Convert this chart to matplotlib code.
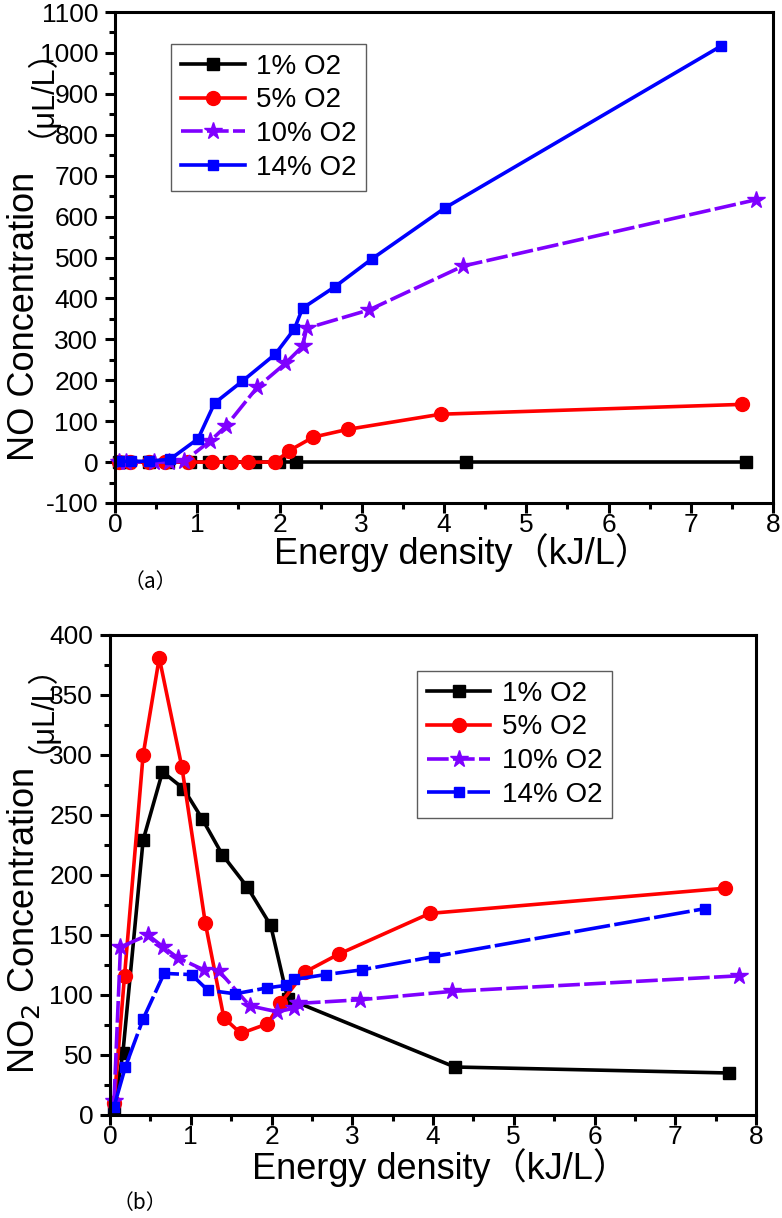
import matplotlib
matplotlib.use("Agg")
import matplotlib.pyplot as plt
from matplotlib.ticker import MultipleLocator

plt.rcParams['font.family'] = ['Liberation Sans', 'Noto Sans CJK SC', 'DejaVu Sans']
plt.rcParams['axes.unicode_minus'] = False

series_labels = ["1% O2", "5% O2", "10% O2", "14% O2"]

# O2 1%
x1 = [0.05, 0.16, 0.41, 0.65, 0.91, 1.14, 1.39, 1.70, 1.99, 2.20, 4.27, 7.67]
no_1 = [0, 0, 0, 0, 0, 0, 0, 0, 0, 0, 0, 0]
no2_1 = [5, 52, 229, 286, 272, 247, 217, 190, 158, 97, 40, 35]

# O2 5%
x5 = [0.05, 0.18, 0.41, 0.61, 0.89, 1.18, 1.41, 1.62, 1.95, 2.11, 2.41, 2.83, 3.96, 7.62]
no_5 = [0, 0, 0, 0, 0, 0, 0, 0, 0, 27, 61, 80, 117, 141]
no2_5 = [10, 116, 300, 381, 290, 160, 81, 68, 76, 93, 119, 134, 168, 189]

# O2 10%
x10 = [0.05, 0.13, 0.47, 0.66, 0.84, 1.16, 1.35, 1.73, 2.07, 2.28, 2.33, 3.09, 4.23, 7.79]
no_10 = [0, 0, 0, 0, 2, 52, 88, 183, 241, 283, 327, 372, 479, 641]
no2_10 = [12, 140, 150, 140, 131, 121, 120, 91, 86, 89, 93, 96, 103, 116]

# O2 14%
x14 = [0.05, 0.19, 0.41, 0.67, 1.01, 1.21, 1.55, 1.95, 2.18, 2.28, 2.67, 3.12, 4.01, 7.37]
no_14 = [2, 2, 2, 7, 57, 144, 198, 264, 325, 376, 428, 496, 621, 1017]
no2_14 = [7, 40, 80, 118, 117, 104, 101, 106, 108, 113, 117, 121, 132, 172]

colors = ["#000000", "#FF0000", "#7F00FF", "#0000FF"]
markers = ["s", "o", "*", "s"]
msizes = [9, 10, 13, 7]

fig = plt.figure(figsize=(7.82, 12.18), dpi=100)

def style_axes(ax, ymaj, ymin, ylim):
    ax.set_xlim(0, 8)
    ax.set_ylim(*ylim)
    ax.xaxis.set_major_locator(MultipleLocator(1))
    ax.xaxis.set_minor_locator(MultipleLocator(0.5))
    ax.yaxis.set_major_locator(MultipleLocator(ymaj))
    ax.yaxis.set_minor_locator(MultipleLocator(ymin))
    for sp in ax.spines.values():
        sp.set_linewidth(2.2)
    ax.tick_params(which='major', direction='out', length=7, width=2.2, labelsize=19)
    ax.tick_params(axis='y', which='major', pad=5)
    ax.tick_params(axis='x', which='major', pad=0.5)
    ax.tick_params(which='minor', direction='out', length=4, width=2.2)
    ax.tick_params(top=False, right=False)

xs = [x1, x5, x10, x14]
ys_top = [no_1, no_5, no_10, no_14]
ys_bot = [no2_1, no2_5, no2_10, no2_14]
ls_top = ['-', '-', (0, (6, 1.2)), '-']
ls_bot = ['-', '-', (0, (6, 1.2)), (0, (10, 1.2))]

leg_kw = dict(loc='upper left', fontsize=20, frameon=True, fancybox=False,
              edgecolor='#333333', handlelength=2.3, labelspacing=0.28,
              borderpad=0.35, handletextpad=0.4, borderaxespad=0)

cjk = ['Noto Sans CJK SC', 'DejaVu Sans']
rot_kw = dict(rotation=90, rotation_mode='anchor', ha='center', va='baseline')

# ---- top (a)
ax1 = fig.add_axes([115/782, 1-503/1218, 658/782, 491/1218])
for i in range(4):
    ax1.plot(xs[i], ys_top[i], color=colors[i], marker=markers[i], ms=msizes[i],
             lw=2.6, linestyle=ls_top[i], label=series_labels[i], clip_on=False)
style_axes(ax1, 100, 50, (-100, 1100))
leg = ax1.legend(bbox_to_anchor=(0.085, 0.935), **leg_kw)
leg.get_frame().set_linewidth(1.0)

fig.text(34/782, 1-316/1218, "NO Concentration", fontsize=26, **rot_kw)
fig.text(34/782, 1-76/1218, "（μL/L）", fontsize=22, **rot_kw)
fig.text(463/782, 1-553/1218, "Energy density（kJ/L）", fontsize=26, ha='center', va='center')
fig.text(150/782, 1-582/1218, "（a）", fontsize=15, ha='center', va='center', family=cjk)

# ---- bottom (b)
ax2 = fig.add_axes([110/782, 1-1115/1218, 646/782, 480/1218])
for i in range(4):
    ax2.plot(xs[i], ys_bot[i], color=colors[i], marker=markers[i], ms=msizes[i],
             lw=2.6, linestyle=ls_bot[i], label=series_labels[i], clip_on=False)
style_axes(ax2, 50, 25, (0, 400))
leg2 = ax2.legend(bbox_to_anchor=(0.475, 0.925), **leg_kw)
leg2.get_frame().set_linewidth(1.0)

fig.text(34/782, 1-921/1218, "NO$_2$ Concentration", fontsize=26, **rot_kw)
fig.text(34/782, 1-692/1218, "（μL/L）", fontsize=22, **rot_kw)
fig.text(440/782, 1-1168/1218, "Energy density（kJ/L）", fontsize=26, ha='center', va='center')
fig.text(140/782, 1-1203/1218, "（b）", fontsize=15, ha='center', va='center', family=cjk)

fig.savefig("out.png", dpi=100)
